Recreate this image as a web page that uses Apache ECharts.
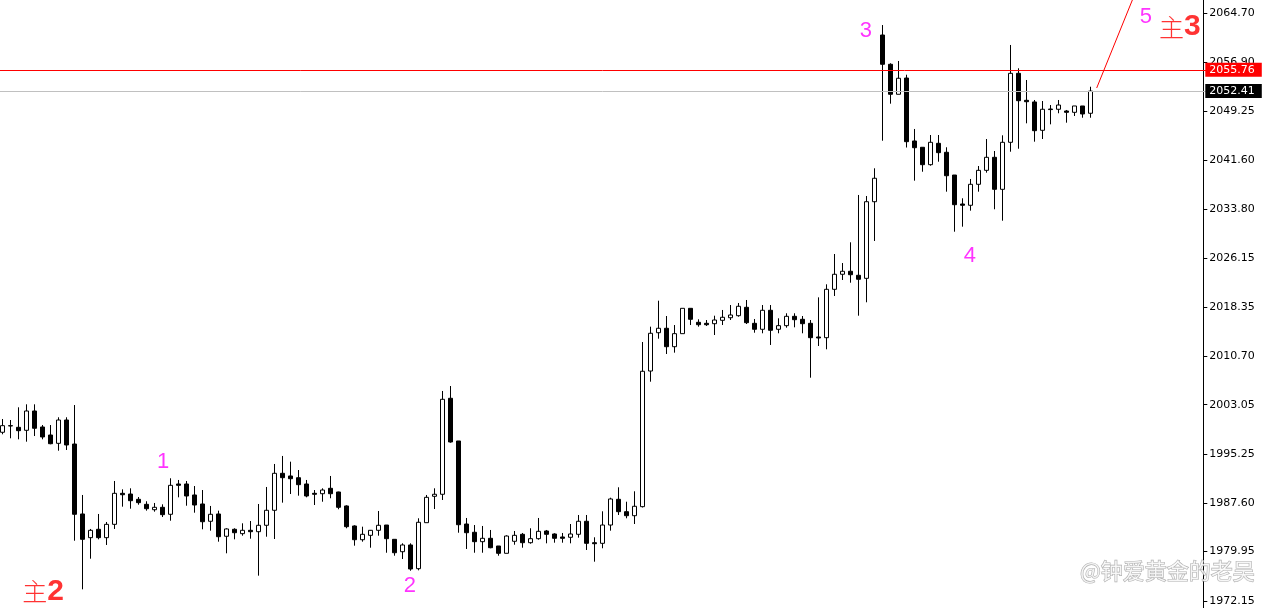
<!DOCTYPE html>
<html><head><meta charset="utf-8">
<script src="https://cdn.jsdelivr.net/npm/echarts@6/dist/echarts.min.js"></script>
<style>html,body{margin:0;padding:0;background:#fff}#c{width:1268px;height:608px}</style>
</head><body><div id="c"></div>
<script>
// ---- data ----
const opens = [1998.71,1999.75,1999.49,1999.02,2002.06,1999.54,1998.28,1996.97,2000.64,1996.86,
1985.85,1982.12,1983.44,1982.12,1984.22,1989.10,1988.99,1988.16,1987.37,1986.52,
1986.90,1985.80,1990.57,1990.57,1988.84,1987.42,1984.70,1985.85,1982.34,1983.44,
1982.75,1983.28,1983.06,1984.07,1986.43,1992.25,1991.83,1991.56,1990.57,1989.10,
1989.04,1989.89,1989.31,1987.11,1983.96,1981.80,1982.49,1983.28,1984.11,1981.86,
1979.91,1980.97,1977.24,1984.48,1988.63,1988.95,2004.06,1997.34,1984.27,1982.97,
1981.49,1982.02,1980.81,1979.66,1981.55,1982.65,1981.33,1981.96,1983.17,1982.70,
1982.23,1982.18,1982.65,1984.70,1981.33,1981.23,1984.11,1988.16,1986.21,1985.58,
1987.00,2008.35,2014.38,2015.08,2012.18,2014.23,2018.22,2016.02,2015.86,2015.80,
2016.33,2016.74,2017.06,2018.38,2015.86,2014.92,2017.91,2014.92,2015.49,2016.96,
2016.49,2015.86,2013.71,2013.60,2021.21,2023.58,2024.05,2023.42,2022.94,2035.00,
2061.24,2056.63,2051.91,2054.47,2044.56,2043.57,2040.83,2044.19,2042.78,2039.20,
2034.64,2034.44,2037.74,2039.94,2041.99,2036.95,2044.35,2055.21,2050.96,2050.70,
2046.24,2049.59,2049.55,2049.28,2049.07,2050.07,2048.92];
const closes = [1999.75,1999.70,1998.96,2002.06,1999.34,1997.97,1996.91,2000.64,1996.71,1985.80,
1981.86,1983.28,1982.12,1984.22,1989.10,1988.88,1987.94,1987.63,1986.68,1986.90,
1985.74,1990.36,1990.36,1988.68,1987.26,1984.63,1985.80,1982.27,1983.49,1982.90,
1983.28,1983.06,1984.07,1986.43,1992.25,1991.56,1991.40,1990.46,1988.68,1988.95,
1989.62,1989.04,1986.90,1983.85,1981.80,1982.65,1983.28,1984.07,1981.96,1979.75,
1980.97,1977.19,1984.54,1988.47,1988.95,2003.90,1997.18,1984.16,1982.90,1981.49,
1982.02,1980.54,1979.66,1982.38,1982.49,1981.33,1981.96,1983.12,1982.65,1982.02,
1982.02,1982.70,1984.70,1981.23,1981.17,1984.11,1988.21,1986.21,1985.58,1987.06,
2008.31,2014.29,2015.08,2012.18,2014.23,2018.22,2016.49,2015.64,2015.64,2016.38,
2016.81,2017.17,2018.54,2015.96,2014.92,2017.91,2014.76,2015.49,2016.96,2016.43,
2015.80,2013.60,2013.55,2021.21,2023.58,2024.05,2023.51,2022.79,2035.00,2038.69,
2056.63,2051.91,2054.43,2044.45,2043.50,2040.83,2044.35,2042.72,2039.09,2034.53,
2034.44,2037.74,2039.94,2041.99,2036.95,2044.35,2055.21,2050.90,2050.74,2046.18,
2049.55,2049.50,2050.22,2049.07,2050.07,2048.81,2052.41];
const lows = [1998.39,1997.76,1997.60,1997.23,1998.12,1997.60,1996.82,1995.81,1995.92,1981.64,
1973.99,1978.81,1981.86,1980.97,1983.49,1987.00,1986.68,1987.31,1986.37,1986.21,
1985.37,1984.79,1988.47,1987.15,1986.05,1983.44,1983.22,1981.49,1979.66,1981.86,
1982.43,1981.96,1976.14,1982.27,1981.91,1987.63,1988.99,1988.73,1988.47,1987.26,
1987.78,1988.32,1986.59,1983.60,1980.86,1981.49,1980.54,1982.43,1979.75,1979.28,
1978.76,1976.92,1976.98,1984.48,1986.63,1988.05,1997.07,1982.90,1980.34,1979.75,
1979.75,1980.45,1979.28,1979.66,1981.01,1980.54,1981.17,1981.80,1981.23,1981.33,
1981.33,1981.23,1982.12,1980.18,1978.34,1980.45,1983.22,1985.69,1985.17,1984.27,
1986.87,2006.67,2013.44,2011.03,2011.24,2014.23,2015.59,2015.33,2015.44,2014.02,
2015.59,2016.38,2016.90,2015.75,2014.38,2014.29,2012.45,2014.29,2015.17,2015.23,
2014.29,2007.30,2012.29,2011.77,2020.16,2022.68,2022.25,2017.06,2019.17,2028.82,
2044.60,2050.43,2051.91,2043.53,2038.31,2039.72,2040.67,2041.30,2036.58,2030.28,
2031.07,2033.59,2036.58,2039.57,2033.81,2032.01,2042.87,2043.34,2047.34,2044.45,
2044.87,2047.18,2048.92,2047.44,2048.49,2048.22,2048.22];
const highs = [2000.80,2000.64,2002.64,2003.11,2003.11,1999.85,1999.85,2001.07,2001.07,2003.00,
1988.84,1983.49,1985.85,1984.59,1991.04,1989.73,1989.89,1988.52,1987.85,1987.58,
1987.37,1991.47,1991.20,1991.04,1990.25,1989.62,1987.11,1986.37,1983.60,1983.60,
1984.38,1984.74,1987.42,1990.10,1993.72,1994.98,1994.08,1992.77,1991.20,1989.62,
1989.89,1991.83,1989.36,1987.22,1984.07,1983.85,1983.33,1986.32,1984.11,1981.86,
1981.23,1981.23,1985.17,1988.84,1989.89,2005.21,2005.99,1997.34,1985.22,1984.11,
1983.96,1983.33,1980.81,1982.49,1983.17,1982.86,1983.60,1985.22,1983.33,1982.81,
1982.86,1984.27,1985.69,1985.69,1982.18,1986.27,1988.41,1990.05,1987.78,1989.42,
2012.92,2015.33,2019.42,2017.01,2015.59,2018.22,2018.22,2016.49,2016.38,2017.06,
2017.96,2018.74,2019.06,2019.53,2016.54,2018.74,2018.74,2016.65,2017.44,2017.44,
2017.01,2016.38,2019.95,2022.00,2026.77,2025.35,2028.61,2036.06,2035.90,2040.26,
2062.81,2056.79,2057.15,2054.99,2046.45,2043.57,2045.50,2045.50,2043.57,2039.20,
2035.54,2038.58,2040.62,2044.87,2042.98,2045.45,2059.67,2056.00,2054.16,2051.01,
2050.85,2050.22,2051.01,2049.44,2050.07,2050.07,2053.10];
const emptySlots = 14; // blank bars to the right of the last candle
const yTicks = [2064.70,2056.90,2049.25,2041.60,2033.80,2026.15,2018.35,2010.70,2003.05,1995.25,1987.60,1979.95,1972.15];
const yMin = 1971.05, yMax = 2066.75;
const redLevel = 2055.76;
const greyLevel = 2052.41;
// annotation texts: [text, bar position, price]
const waveMarks = [['1',20.1,1994.0],['2',50.95,1974.6],['3',107.96,2061.9],['4',120.96,2026.4],['5',142.96,2064.1]];
const mainMarks = [['主','2',5.1,1973.6],['主','3',147.2,2062.5]];
const trendLine = [[136.8,2052.9],[141.5,2067.5]];
const watermark = ['@钟爱黄金的老吴',134.7,1976.9];

// ---- build ----
const nBars = opens.length + emptySlots;
const cats = [];
for (let i = 0; i < nBars; i++) cats.push(String(i));
const kData = opens.map((o, i) => [o, closes[i], lows[i], highs[i]]);

const chart = echarts.init(document.getElementById('c'), null, {renderer: 'canvas'});
const band = 8;
const gridLeft = -1.7;
const gridWidth = band * nBars;

chart.setOption({
  animation: false,
  backgroundColor: '#ffffff',
  grid: {left: gridLeft, top: 0, width: gridWidth, height: 608, containLabel: false, outerBoundsMode: 'none'},
  xAxis: [
    {type: 'category', data: cats, boundaryGap: true, show: false},
    {type: 'value', min: -0.5, max: nBars - 0.5, show: false}
  ],
  yAxis: {
    type: 'value', position: 'right', min: yMin, max: yMax, offset: -3,
    splitLine: {show: false},
    axisLine: {show: true, onZero: false, lineStyle: {color: '#000', width: 1}},
    axisTick: {show: true, length: 4, inside: false, lineStyle: {color: '#000'}, customValues: yTicks},
    axisLabel: {customValues: yTicks, formatter: v => v.toFixed(2), color: '#000',
      fontFamily: 'DejaVu Sans', fontSize: 11, margin: 6}
  },
  series: [
    {
      type: 'candlestick', xAxisIndex: 0, yAxisIndex: 0, data: kData, barWidth: 4,
      itemStyle: {color: '#ffffff', color0: '#000000', borderColor: '#000000', borderColor0: '#000000', borderWidth: 1},
      markLine: {
        silent: true, symbol: 'none', animation: false,
        label: {show: true, position: 'end', distance: -1, formatter: p => p.value.toFixed(2),
          color: '#fff', fontFamily: 'DejaVu Sans', fontSize: 11, padding: [2, 7, 1, 4]},
        data: [
          {yAxis: redLevel, lineStyle: {color: '#ff0000', width: 1, type: 'solid'}, label: {backgroundColor: '#ff0000'}},
          {yAxis: greyLevel, lineStyle: {color: '#c0c0c0', width: 1, type: 'solid'}, label: {backgroundColor: '#000000'}}
        ]
      }
    },
    {
      type: 'line', xAxisIndex: 1, yAxisIndex: 0, data: trendLine, symbol: 'none', silent: true,
      lineStyle: {color: '#ff0000', width: 1}, clip: true
    },
    {
      type: 'scatter', xAxisIndex: 1, yAxisIndex: 0, symbolSize: 0, silent: true,
      data: waveMarks.map(m => ({name: m[0], value: [m[1], m[2]]})),
      label: {show: true, position: 'inside', formatter: p => p.name, color: '#ff00ff',
        fontFamily: 'Liberation Sans', fontSize: 22}
    },
    {
      type: 'scatter', xAxisIndex: 1, yAxisIndex: 0, symbolSize: 0, silent: true,
      data: mainMarks.map(m => ({name: m[0] + m[1], value: [m[2], m[3]], zh: m[0], num: m[1]})),
      label: {show: true, position: 'inside',
        formatter: p => '{zh|' + p.data.zh + '}{num|' + p.data.num + '}',
        rich: {
          zh: {fontFamily: 'Noto Sans CJK SC', fontSize: 25, fontWeight: 300, color: '#ff0000'},
          num: {fontFamily: 'Liberation Sans', fontSize: 30, fontWeight: 'bold', color: '#ff0000'}
        }}
    },
    {
      type: 'scatter', xAxisIndex: 1, yAxisIndex: 0, symbolSize: 0, silent: true,
      data: [{name: watermark[0], value: [watermark[1], watermark[2]]}],
      label: {show: true, position: 'right', distance: 0, formatter: p => p.name,
        fontFamily: 'Noto Sans CJK SC', fontSize: 22, color: '#ffffff',
        textBorderColor: '#9a9a9a', textBorderWidth: 1.2}
    }
  ]
});
</script>
</body></html>
